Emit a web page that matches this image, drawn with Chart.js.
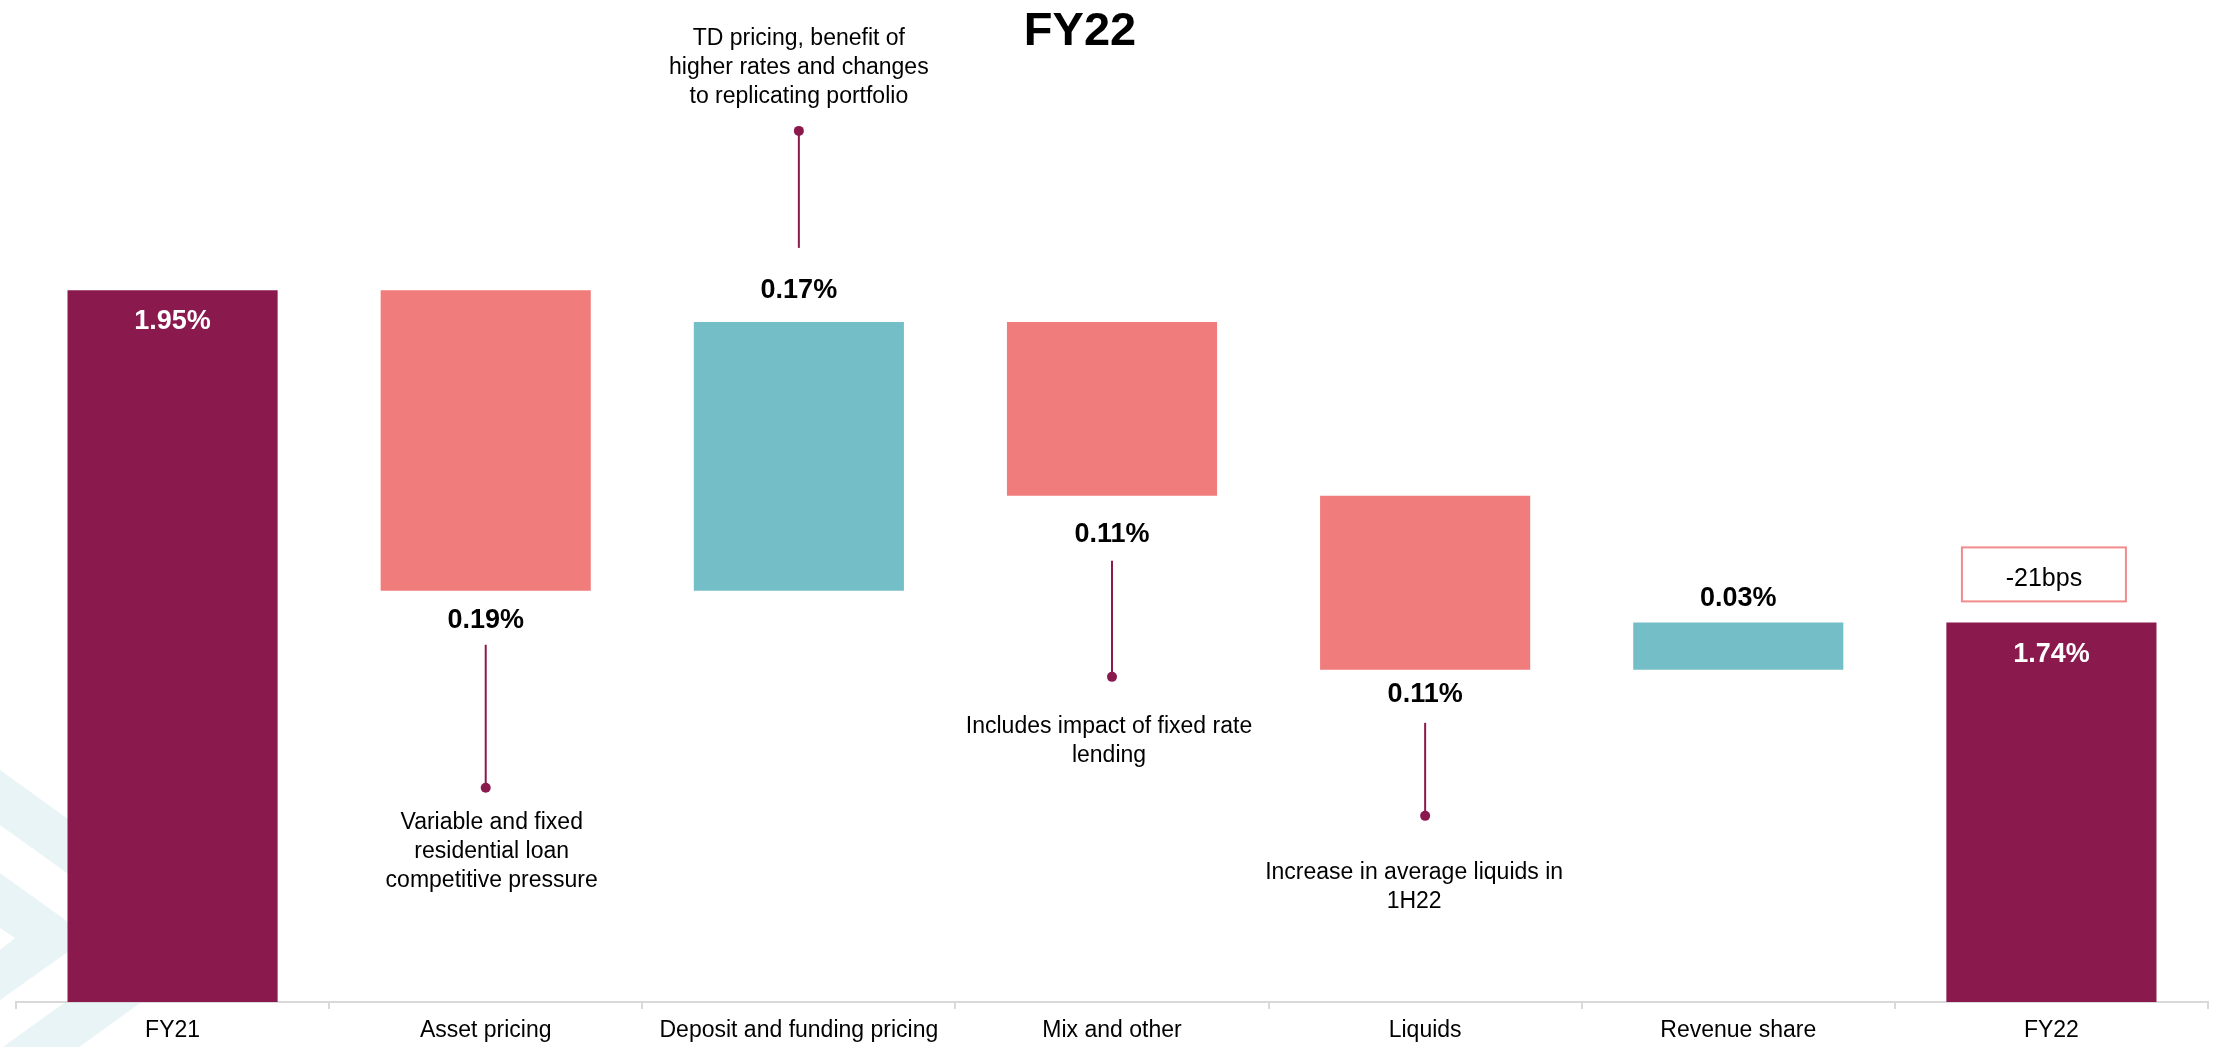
<!DOCTYPE html>
<html>
<head>
<meta charset="utf-8">
<script src="https://cdn.jsdelivr.net/npm/chart.js@4/dist/chart.umd.min.js"></script>
<style>
  html, body { margin: 0; padding: 0; background: #ffffff; overflow: hidden; }
  #c { display: block; }
</style>
</head>
<body>
<canvas id="c" width="2216" height="1047"></canvas>
<script>
// ---------------- data ----------------
const categories = ['FY21', 'Asset pricing', 'Deposit and funding pricing', 'Mix and other', 'Liquids', 'Revenue share', 'FY22'];
const values = [1.95, -0.19, 0.17, -0.11, -0.11, 0.03, 1.74];   // first and last are totals, the rest are changes
const isTotal = [true, false, false, false, false, false, true];
const axisMin = 1.5;
const axisMax = 2.1;
const chartTitle = 'FY22';
const changeNote = '-21bps';
const notes = [
  null,
  ['Variable and fixed', 'residential loan', 'competitive pressure'],
  ['TD pricing, benefit of', 'higher rates and changes', 'to replicating portfolio'],
  ['Includes impact of fixed rate', 'lending'],
  ['Increase in average liquids in', '1H22'],
  null,
  null
];

// ---------------- styles ----------------
const MAROON = '#8A194E';
const SALMON = '#F17C7C';
const TEAL = '#74BFC7';
const AXIS = '#D9D9D9';
const FONT = "'Liberation Sans', Arial, sans-serif";

// waterfall table built from the values
let running = 0;
const floating = values.map((v, i) => {
  if (isTotal[i]) { running = v; return [axisMin, v]; }
  const start = running;
  running = Math.round((running + v) * 10000) / 10000;
  return [Math.min(start, running), Math.max(start, running)];
});
const colors = values.map((v, i) => isTotal[i] ? MAROON : (v < 0 ? SALMON : TEAL));
const labelTexts = values.map(v => Math.abs(v).toFixed(2) + '%');

// label / note layout (style only)
const labelStyle = [
  { pos: 'inside', dy: 29 },
  { pos: 'below', dy: 28, line: [26, 143], textGap: 33, textDx: 6 },
  { pos: 'above', dy: -34, line: [40, 117], textGap: 36, textDx: 0 },
  { pos: 'below', dy: 36, line: [29, 116], textGap: 48, textDx: -3 },
  { pos: 'below', dy: 22, line: [31, 93], textGap: 55, textDx: -11 },
  { pos: 'above', dy: -26 },
  { pos: 'inside', dy: 30, box: true }
];

function capText(ctx, text, x, capCenterY, size, weight, color) {
  ctx.save();
  ctx.font = `${weight} ${size}px ${FONT}`;
  ctx.fillStyle = color;
  ctx.textAlign = 'center';
  ctx.textBaseline = 'alphabetic';
  ctx.fillText(text, x, capCenterY + size * 0.358);
  ctx.restore();
}

const decorPlugin = {
  id: 'decor',
  beforeDraw(chart) {
    const ctx = chart.ctx;
    ctx.save();
    ctx.fillStyle = '#E9F4F6';
    const bands = [
      [[0, 770], [232, 937], [0, 1104], [0, 1049], [156, 937], [0, 825]],
      [[0, 873], [89, 937], [0, 1000], [0, 950], [15, 938], [0, 928]]
    ];
    bands.forEach(b => {
      ctx.beginPath();
      b.forEach((p, k) => k ? ctx.lineTo(p[0], p[1]) : ctx.moveTo(p[0], p[1]));
      ctx.closePath();
      ctx.fill();
    });
    ctx.restore();
  },
  afterDatasetsDraw(chart) {
    const ctx = chart.ctx;
    const meta = chart.getDatasetMeta(0);
    // title
    capText(ctx, chartTitle, 1080, 28.5, 47, 'bold', '#000');

    meta.data.forEach((bar, i) => {
      const st = labelStyle[i];
      const x = bar.x;
      const top = Math.min(bar.y, bar.base);
      const bottom = Math.max(bar.y, bar.base);
      let ly;
      if (st.pos === 'inside') {
        ly = top + st.dy;
        capText(ctx, labelTexts[i], x, ly, 27, 'bold', '#FFFFFF');
      } else if (st.pos === 'above') {
        ly = top + st.dy;
        capText(ctx, labelTexts[i], x, ly, 27, 'bold', '#000');
      } else {
        ly = bottom + st.dy;
        capText(ctx, labelTexts[i], x, ly, 27, 'bold', '#000');
      }
      const note = notes[i];
      if (note && st.line) {
        const dir = st.pos === 'above' ? -1 : 1;
        const y1 = ly + dir * st.line[0];
        const y2 = y1 + dir * st.line[1];
        ctx.save();
        ctx.strokeStyle = MAROON;
        ctx.fillStyle = MAROON;
        ctx.lineWidth = 2;
        ctx.beginPath();
        ctx.moveTo(x, y1);
        ctx.lineTo(x, y2);
        ctx.stroke();
        ctx.beginPath();
        ctx.arc(x, y2, 5, 0, Math.PI * 2);
        ctx.fill();
        ctx.restore();
        const lh = 29;
        const tx = x + st.textDx;
        if (dir === 1) {
          note.forEach((t, k) => capText(ctx, t, tx, y2 + st.textGap + k * lh, 23, 'normal', '#000'));
        } else {
          const n = note.length;
          note.forEach((t, k) => capText(ctx, t, tx, y2 - st.textGap - (n - 1 - k) * lh, 23, 'normal', '#000'));
        }
      }
      if (st.box) {
        const bw = 164, bh = 54;
        const bx = x - 7.5 - bw / 2;
        const by = top - 21 - bh;
        ctx.save();
        ctx.fillStyle = '#FFFFFF';
        ctx.fillRect(bx, by, bw, bh);
        ctx.strokeStyle = '#F28B8B';
        ctx.lineWidth = 2;
        ctx.strokeRect(bx, by, bw, bh);
        ctx.restore();
        capText(ctx, changeNote, bx + bw / 2, by + bh / 2 + 3, 25, 'normal', '#000');
      }
    });
  }
};

new Chart(document.getElementById('c'), {
  type: 'bar',
  data: {
    labels: categories,
    datasets: [{
      data: floating,
      backgroundColor: colors,
      borderWidth: 0,
      barPercentage: 0.671,
      categoryPercentage: 1
    }]
  },
  options: {
    responsive: false,
    animation: false,
    devicePixelRatio: 1,
    layout: { padding: { top: 53, left: 16, right: 8, bottom: 0 } },
    plugins: {
      legend: { display: false },
      tooltip: { enabled: false },
      title: { display: false }
    },
    scales: {
      x: {
        grid: { offset: true, drawOnChartArea: false, drawTicks: true, tickLength: 7, color: AXIS, lineWidth: 2 },
        border: { display: true, color: AXIS, width: 2 },
        ticks: { color: '#000', font: { family: FONT, size: 23 }, padding: 8, maxRotation: 0, autoSkip: false },
        afterFit(scale) { scale.height = 45; }
      },
      y: { display: false, min: axisMin, max: axisMax }
    }
  },
  plugins: [decorPlugin]
});
</script>
</body>
</html>
